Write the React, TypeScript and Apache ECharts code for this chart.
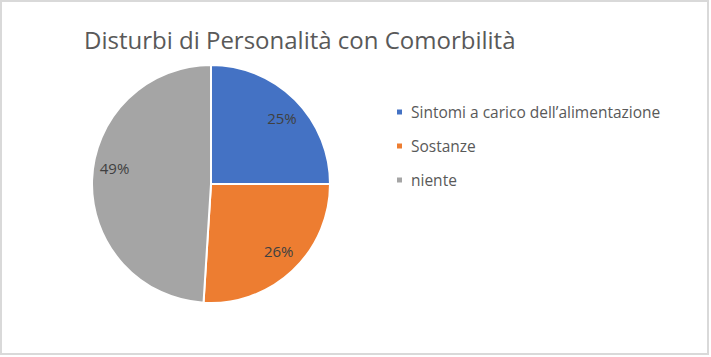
import React, { useEffect, useRef } from "react";
import * as echarts from "echarts";

const titleText = "Disturbi di Personalità con Comorbilità";
const categories = ["Sintomi a carico dell’alimentazione", "Sostanze", "niente"];
const values = [25, 26, 49];
const colors = ["#4472C4", "#ED7D31", "#A5A5A5"];

export default function App() {
  const ref = useRef<HTMLDivElement>(null);
  useEffect(() => {
    if (!ref.current) return;
    const chart = echarts.init(ref.current, undefined, { renderer: "svg" });
    const data = categories.map((name, i) => ({ name, value: values[i] }));
    const labelOffsets = [[2, 3], [1, -4], [1, -13]];
    chart.setOption({
      animation: false,
      backgroundColor: "#ffffff",
      color: colors,
      title: {
        text: titleText,
        left: 79,
        top: 22,
        textStyle: {
          fontFamily: "Open Sans",
          fontSize: 24,
          fontWeight: "normal",
          color: "#595959",
        },
      },
      legend: {
        orient: "vertical",
        left: 390,
        top: 98,
        icon: "rect",
        itemWidth: 7,
        itemHeight: 7,
        itemGap: 16,
        data: categories,
        textStyle: {
          fontFamily: "Open Sans",
          fontSize: 15.5,
          color: "#595959",
          lineHeight: 18,
          padding: [0, 0, 0, 3],
        },
      },
      graphic: [
        {
          type: "rect",
          shape: { x: 1, y: 1, width: 707, height: 353 },
          style: { fill: "none", stroke: "#d9d9d9", lineWidth: 2 },
          silent: true,
        },
      ],
      series: [
        {
          type: "pie",
          center: [211, 184],
          radius: [0, 119],
          startAngle: 90,
          clockwise: true,
          data,
          label: { show: false },
          labelLine: { show: false },
          itemStyle: { borderColor: "#ffffff", borderWidth: 2 },
          emphasis: { disabled: true },
        },
        {
          type: "pie",
          center: [211, 184],
          radius: [70, 119],
          startAngle: 90,
          clockwise: true,
          silent: true,
          data: data.map((d, i) => ({ ...d, label: { offset: labelOffsets[i] } })),
          itemStyle: { color: "rgba(0,0,0,0)", borderWidth: 0 },
          label: {
            show: true,
            position: "inside",
            formatter: "{d}%",
            fontFamily: "Open Sans",
            fontSize: 15,
            color: "#404040",
          },
          labelLine: { show: false },
          emphasis: { disabled: true },
        },
      ],
    });
    return () => chart.dispose();
  }, []);
  return (
    <div
      ref={ref}
      style={{ position: "fixed", left: 0, top: 0, width: 711, height: 357 }}
    />
  );
}
